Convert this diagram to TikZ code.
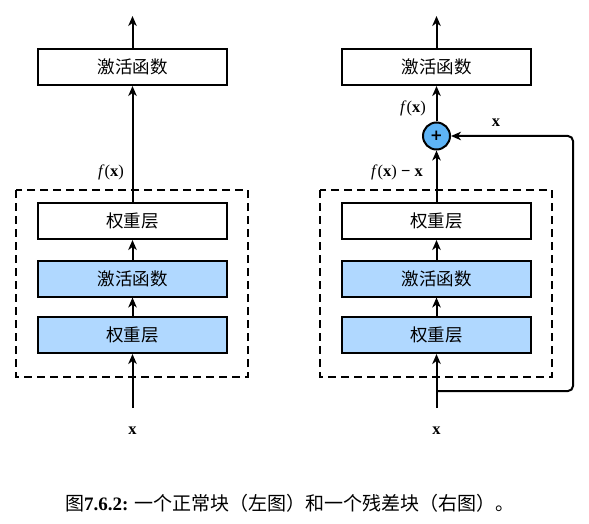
\documentclass[tikz,border=0pt]{standalone}
\usepackage{fontspec}
\setmainfont{Liberation Serif}
\newfontfamily\cjk{Noto Sans CJK SC}
\newfontfamily\plusfont{DejaVu Sans}
\usetikzlibrary{arrows.meta}
\definecolor{layerblue}{HTML}{B0D8FF}
\definecolor{plusblue}{HTML}{5EB4F6}
\tikzset{
  layer/.style={draw=black, line width=2pt, minimum width=189pt, minimum height=36pt, inner sep=0pt, font=\cjk\fontsize{17.5}{19}\selectfont},
  bluelayer/.style={layer, fill=layerblue},
  plusnode/.style={circle, draw=black, line width=2pt, fill=plusblue, minimum size=27pt, inner sep=0pt, font=\plusfont\fontsize{15}{16}\selectfont\bfseries},
  conn/.style={line width=2pt, -{Stealth[length=10pt,width=8.5pt,inset=3pt]}},
  blockbox/.style={draw=black, line width=2pt, dash pattern=on 8pt off 5pt},
  lbl/.style={font=\fontsize{16.5}{18}\selectfont, inner sep=0pt},
  caption/.style={font=\fontsize{19}{21}\selectfont, inner sep=0pt}
}
\begin{document}
\begin{tikzpicture}[x=1pt,y=-1pt]
\useasboundingbox (0,0) rectangle (589,524);
% ---------- left: normal block ----------
\draw[blockbox] (16,190) rectangle (248,377);
\node[layer] (Ltop) at (132.5,67) {激活函数};
\node[layer] (L1) at (132.5,221) {权重层};
\node[bluelayer] (L2) at (132.5,278.5) {激活函数};
\node[bluelayer] (L3) at (132.5,335) {权重层};
\coordinate (Lin) at (132.5,408);
\coordinate (Lout) at (132.5,16);
\node[lbl] (Lx) at (132.5,431) {\textbf{x}};
\node[lbl] (Lfx) at (111,172) {\textit{f}(\textbf{x})};
\draw[conn] (Lin) -- (L3.south);
\draw[conn] (L3.north) -- (L2.south);
\draw[conn] (L2.north) -- (L1.south);
\draw[conn] (L1.north) -- (Ltop.south);
\draw[conn] (Ltop.north) -- (Lout);
% ---------- right: residual block ----------
\draw[blockbox] (320,190) rectangle (552,377);
\node[layer] (Rtop) at (436.5,67) {激活函数};
\node[layer] (R1) at (436.5,221) {权重层};
\node[bluelayer] (R2) at (436.5,278.5) {激活函数};
\node[bluelayer] (R3) at (436.5,335) {权重层};
\node[plusnode] (plus) at (436.5,136) {+};
\coordinate (Rin) at (436.5,408);
\coordinate (Rbranch) at (436.5,391);
\coordinate (Rout) at (436.5,16);
\node[lbl] (Rx) at (436.5,431) {\textbf{x}};
\node[lbl] (Rskipx) at (496,123) {\textbf{x}};
\node[lbl] (Rfx) at (413,108) {\textit{f}(\textbf{x})};
\node[lbl] (Rfxx) at (397,172) {\textit{f}(\textbf{x}) \textbf{−} \textbf{x}};
\draw[conn] (Rin) -- (R3.south);
\draw[conn] (R3.north) -- (R2.south);
\draw[conn] (R2.north) -- (R1.south);
\draw[conn] (R1.north) -- (plus.south);
\draw[conn] (plus.north) -- (Rtop.south);
\draw[conn] (Rtop.north) -- (Rout);
\draw[conn, rounded corners=5pt] (Rbranch) -- (573,391) -- (573,136) -- (plus.east);
% ---------- caption ----------
\node[caption] (cap) at (290,503) {{\cjk 图}\textbf{7.6.2:} {\cjk 一个正常块（左图）和一个残差块（右图）。}};
\end{tikzpicture}
\end{document}
